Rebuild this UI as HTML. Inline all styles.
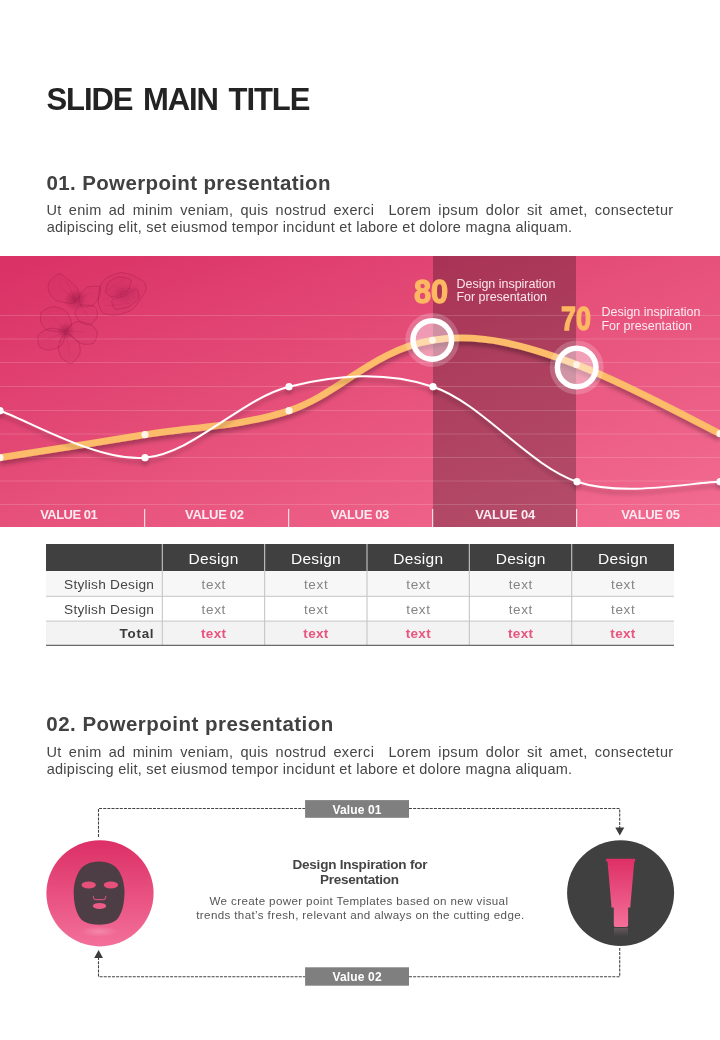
<!DOCTYPE html>
<html lang="en">
<head>
<meta charset="utf-8">
<title>Slide Main Title</title>
<style>
html,body{margin:0;padding:0;background:#fff;}
body{width:720px;height:1040px;position:relative;overflow:hidden;font-family:"Liberation Sans",sans-serif;}
.t{position:absolute;white-space:pre;margin:0;}
.abs{position:absolute;}
#chart{left:0;top:256px;width:720px;height:271px;background:linear-gradient(to bottom right,#da3065 0%,#e6517b 50%,#f36c92 100%);}
#darkcol{left:433px;top:256px;width:143.4px;height:271px;background:rgba(0,0,0,0.25);}
svg{position:absolute;left:0;top:0;overflow:visible;}
</style>
</head>
<body>
<div id="chart" class="abs"></div>
<div id="darkcol" class="abs"></div>

<!-- chart graphics -->
<svg width="720" height="1040" viewBox="0 0 720 1040">
  <defs>
    <filter id="sh" x="-10%" y="-30%" width="120%" height="180%">
      <feGaussianBlur in="SourceAlpha" stdDeviation="2"/>
      <feOffset dx="0" dy="4" result="o"/>
      <feComponentTransfer><feFuncA type="linear" slope="0.28"/></feComponentTransfer>
      <feMerge><feMergeNode/><feMergeNode in="SourceGraphic"/></feMerge>
    </filter>
    <clipPath id="cc"><rect x="0" y="256" width="720" height="271"/></clipPath>
    <linearGradient id="pk" x1="0" y1="0" x2="0" y2="1">
      <stop offset="0" stop-color="#dc2f66"/><stop offset="1" stop-color="#f3709a"/>
    </linearGradient>
    <pattern id="dots" width="2.4" height="2.4" patternUnits="userSpaceOnUse"><circle cx="0.8" cy="0.8" r="0.55" fill="#8e1440" fill-opacity="0.5"/></pattern>
    <radialGradient id="dotm"><stop offset="0" stop-color="#fff" stop-opacity="1"/><stop offset="0.6" stop-color="#fff" stop-opacity="0.7"/><stop offset="1" stop-color="#fff" stop-opacity="0"/></radialGradient>
    <mask id="dm1"><ellipse cx="128" cy="294" rx="13" ry="10" fill="url(#dotm)"/></mask>
    <mask id="dm2"><ellipse cx="80" cy="297" rx="10" ry="7" fill="url(#dotm)"/></mask>
    <radialGradient id="stam"><stop offset="0" stop-color="#8e1440" stop-opacity="0.5"/><stop offset="1" stop-color="#8e1440" stop-opacity="0"/></radialGradient>
    <radialGradient id="stam2"><stop offset="0" stop-color="#8e1440" stop-opacity="0.2"/><stop offset="1" stop-color="#8e1440" stop-opacity="0"/></radialGradient>
    <radialGradient id="refl"><stop offset="0" stop-color="#fff" stop-opacity="0.22"/><stop offset="1" stop-color="#fff" stop-opacity="0"/></radialGradient>
    <linearGradient id="trefl" x1="0" y1="0" x2="0" y2="1"><stop offset="0" stop-color="#d8a0b2" stop-opacity="0.24"/><stop offset="1" stop-color="#d8a0b2" stop-opacity="0"/></linearGradient>
    <linearGradient id="tube" x1="0" y1="0" x2="0" y2="1">
      <stop offset="0" stop-color="#dd2f66"/><stop offset="1" stop-color="#f46f99"/>
    </linearGradient>
  </defs>
  <g clip-path="url(#cc)">
    <!-- grid lines -->
    <g stroke="#ffffff" stroke-opacity="0.16" stroke-width="1">
      <path d="M0 315.5H720M0 339H720M0 362.5H720M0 386.5H720M0 410.5H720M0 434H720M0 457.5H720M0 481H720M0 504.5H720"/>
    </g>
    <!-- flower sketch -->
    <g id="flower" fill="#b0204f" fill-opacity="0.06" stroke="#9c1a48" stroke-opacity="0.5" stroke-width="0.7">
<path d="M49.3 281.7C50.6 279.9 57.0 273.4 60.0 274.0C63.0 274.6 73.9 284.2 76.0 286.7C78.1 289.2 79.8 294.9 79.3 296.7C78.8 298.5 74.4 302.9 71.7 303.3C69.0 303.7 57.6 301.5 55.0 300.0C52.4 298.5 48.9 292.0 48.3 290.0C47.7 288.0 48.0 283.5 49.3 281.7Z"/>
<path d="M79.3 296.7C79.9 294.5 85.0 288.4 87.3 287.3C89.6 286.2 98.7 285.7 100.0 286.7C101.3 287.7 100.0 294.7 99.3 296.7C98.6 298.7 95.3 303.9 93.3 305.0C91.3 306.1 83.3 307.6 81.7 306.7C80.1 305.8 78.7 298.9 79.3 296.7Z"/>
<path d="M80.0 305.0C82.2 304.3 93.1 305.4 95.0 306.7C96.9 308.0 97.9 314.7 97.3 316.7C96.7 318.7 91.9 324.4 90.0 325.0C88.1 325.6 81.7 323.0 80.0 321.7C78.3 320.4 75.0 315.2 75.0 313.3C75.0 311.4 77.8 305.7 80.0 305.0Z"/>
<path d="M100.0 286.7C100.9 283.9 103.8 279.9 106.0 278.3C108.2 276.7 117.1 273.1 120.0 272.7C122.9 272.3 129.0 274.0 131.7 275.0C134.4 276.0 142.4 280.0 144.0 281.7C145.6 283.4 146.4 288.0 146.0 290.0C145.6 292.0 141.6 297.8 140.0 300.0C138.4 302.2 134.3 308.3 131.7 310.0C129.1 311.7 119.9 314.6 116.7 315.0C113.5 315.4 105.3 314.6 103.3 313.3C101.3 312.0 98.7 306.3 98.3 303.3C97.9 300.3 99.1 289.5 100.0 286.7Z"/>
<path d="M108.0 283.0C109.3 281.2 115.4 277.3 118.0 277.0C120.6 276.7 130.0 278.3 131.0 280.0C132.0 281.7 128.9 290.1 127.0 292.0C125.1 293.9 116.3 296.9 114.0 297.0C111.7 297.1 106.7 294.6 106.0 293.0C105.3 291.4 106.7 284.8 108.0 283.0Z"/>
<path d="M112.0 300.0C113.0 298.6 121.3 297.2 124.0 296.0C126.7 294.8 134.3 288.8 136.0 289.0C137.7 289.2 139.9 296.0 139.0 298.0C138.1 300.0 130.7 305.8 128.0 307.0C125.3 308.2 116.8 309.8 115.0 309.0C113.2 308.2 111.0 301.4 112.0 300.0Z"/>
<path d="M41.7 311.7C43.1 310.0 50.5 306.7 53.3 306.7C56.1 306.7 64.7 309.7 66.7 311.7C68.7 313.7 72.1 322.8 71.7 325.0C71.3 327.2 66.1 331.1 63.3 331.7C60.5 332.3 49.2 331.1 46.7 330.0C44.2 328.9 41.3 323.7 40.7 321.7C40.1 319.7 40.3 313.4 41.7 311.7Z"/>
<path d="M38.3 335.0C39.5 333.0 47.0 328.7 50.0 328.3C53.0 327.9 63.7 329.8 65.0 331.7C66.3 333.6 63.4 343.0 61.7 345.0C60.0 347.0 52.5 349.8 50.0 350.0C47.5 350.2 40.6 348.4 39.3 346.7C38.0 345.0 37.1 337.0 38.3 335.0Z"/>
<path d="M65.0 333.3C67.2 332.7 76.6 339.5 78.3 341.7C80.0 343.9 80.7 350.9 80.0 353.3C79.3 355.7 73.7 362.7 71.7 363.3C69.7 363.9 63.2 360.1 61.7 358.3C60.2 356.5 57.9 349.5 58.3 346.7C58.7 343.9 62.8 333.9 65.0 333.3Z"/>
<path d="M66.7 330.0C66.3 327.6 73.9 322.3 76.7 321.7C79.5 321.1 89.4 323.7 91.7 325.0C94.0 326.3 97.1 331.3 97.3 333.3C97.5 335.3 95.2 342.2 93.3 343.3C91.4 344.4 83.0 344.8 80.0 343.3C77.0 341.8 67.1 332.4 66.7 330.0Z"/>
      <g stroke-width="0.5" stroke-opacity="0.3" fill="none"><path d="M75 300L58 284M75 300L66 280M76 300L92 292M77 302L88 316M66 331L52 316M67 331L86 332M66 333L70 355M65 332L46 340M103 300L138 286M106 306L130 303M104 292L126 278"/></g>
    </g>
    <circle cx="75" cy="300" r="11" fill="url(#stam)"/><circle cx="66" cy="331" r="9" fill="url(#stam)"/><ellipse cx="122" cy="293" rx="14" ry="10" fill="url(#stam2)"/><rect x="110" y="280" width="36" height="28" fill="url(#dots)" mask="url(#dm1)"/><rect x="68" y="288" width="24" height="18" fill="url(#dots)" mask="url(#dm2)"/>
    <!-- dividers -->
    <path d="M144.7 509V527M288.7 509V527M432.7 509V527M576.7 509V527" stroke="#fff" stroke-opacity="0.95" stroke-width="1"/>
    <!-- orange curve -->
    <g filter="url(#sh)" transform="translate(0 0.7)">
    <path d="M0.0 457.0 C24.2 453.2 96.8 441.8 145.0 434.0 C193.2 426.2 241.0 425.8 289.0 410.0 C339.4 393.4 373.0 349.1 433.0 339.5 C481.0 331.4 529.2 345.8 577.0 364.0 C624.8 382.2 696.2 421.0 720.0 433.0" fill="none" stroke="#fdbc69" stroke-width="6.8"/>
    </g>
    <!-- white curve -->
    <g filter="url(#sh)" transform="translate(0 0.7)">
    <path d="M0.0 410.0 C24.2 417.8 96.8 461.0 145.0 457.0 C193.2 453.0 241.0 397.8 289.0 386.0 C337.0 374.2 385.0 370.2 433.0 386.0 C481.0 401.8 529.2 465.2 577.0 481.0 C624.8 496.8 696.2 481.0 720.0 481.0" fill="none" stroke="#fff" stroke-width="2"/>
    <g fill="#fff"><circle cx="0" cy="410" r="3.6"/><circle cx="145" cy="457" r="3.6"/><circle cx="289" cy="386" r="3.6"/><circle cx="433" cy="386" r="3.6"/><circle cx="577" cy="481" r="3.6"/><circle cx="720" cy="481" r="3.6"/></g>
    </g>
    <!-- rings -->
    <g>
      <circle cx="432.3" cy="340" r="27" fill="#fff" fill-opacity="0.2"/>
      <circle cx="432.3" cy="340" r="19.3" fill="#fff" fill-opacity="0.3" stroke="#fff" stroke-width="5.5"/>
      <circle cx="576.7" cy="367.5" r="27" fill="#fff" fill-opacity="0.2"/>
      <circle cx="576.7" cy="367.5" r="19.3" fill="#fff" fill-opacity="0.3" stroke="#fff" stroke-width="5.5"/>
    </g>
    <g fill="#fff5e8" transform="translate(0 0.7)"><circle cx="0" cy="457" r="3.6"/><circle cx="145" cy="434" r="3.6"/><circle cx="289" cy="410" r="3.6"/><circle cx="432.5" cy="339.5" r="3.4"/><circle cx="576.5" cy="364" r="3.4"/><circle cx="720" cy="433" r="3.6"/></g>
  </g>

  <!-- table -->
  <rect x="46" y="544" width="628" height="27" fill="#404040"/>
  <rect x="46" y="571" width="628" height="25.3" fill="#f7f7f7"/>
  <rect x="46" y="621" width="628" height="24.3" fill="#f3f3f3"/>
  <path d="M46 596.4H674M46 621.1H674" stroke="#d0d0d0" stroke-width="1.1"/>
  <path d="M162.3 544V645M264.65 544V645M367 544V645M469.35 544V645M571.7 544V645" stroke="#c6c6c6" stroke-width="1.1"/>
  <path d="M46 645.3H674" stroke="#6a6a6a" stroke-width="1.3"/>

  <!-- diagram -->
  <g fill="none" stroke="#444" stroke-width="1.1" stroke-dasharray="3 1.15">
    <path d="M98.5 837V808.5H305"/>
    <path d="M409 808.5H619.7V828"/>
    <path d="M98.5 957V976.7H305"/>
    <path d="M409 976.7H619.7V948"/>
  </g>
  <path d="M615.3 827.5h9l-4.5 8z" fill="#3c3c3c"/>
  <path d="M94.2 958h8.8l-4.4-8z" fill="#3c3c3c"/>
  <rect x="305.1" y="800.1" width="103.9" height="17.7" fill="#7f7f7f"/>
  <rect x="305.1" y="967.3" width="103.9" height="18.4" fill="#7f7f7f"/>
  <ellipse cx="100" cy="893.3" rx="53.6" ry="53.1" fill="url(#pk)"/>
  <ellipse cx="620.6" cy="893.1" rx="53.5" ry="52.9" fill="#404040"/>
  <!-- mask icon -->
  <g id="mask">
    <ellipse cx="99.3" cy="931.5" rx="19" ry="5.5" fill="url(#refl)"/>
    <path d="M99.1 861.5C108.3 861.5 116.0 864.8 120.2 873.2C123.4 879.5 124.5 886.3 124.5 892.3C124.3 903.7 122.3 911.7 118.6 917.3C115.1 922.8 107.6 924.7 99.1 924.7C90.6 924.7 83.1 922.8 79.6 917.3C75.9 911.7 73.9 903.7 73.7 892.3C73.7 886.3 74.8 879.5 78.0 873.2C82.2 864.8 89.9 861.5 99.1 861.5Z" fill="#4d3d45"/>
    <ellipse cx="88.7" cy="885" rx="7.2" ry="3.4" fill="#e6507b"/>
    <ellipse cx="110.9" cy="885" rx="7.2" ry="3.4" fill="#e6507b"/>
    <ellipse cx="99.5" cy="905.9" rx="6.7" ry="3" fill="#ec5c86"/>
    <path d="M93.4 895.9V897.3Q93.4 899.7 95.8 899.7H103.3Q105.7 899.7 105.7 897.3V895.9" fill="none" stroke="#ea5883" stroke-width="1"/>
  </g>
  <!-- tube icon -->
  <g id="tubeicon">
    <rect x="613.9" y="928" width="14.1" height="8.5" fill="url(#trefl)"/>
    <path d="M606.6 858.7H634.6Q635.4 858.7 635.3 859.4L634.9 861.6H634.3L630.4 905.4V907.5H628.1V925.2Q628.1 927 626.3 927H615.6Q613.8 927 613.8 925.2V907.5H611.4V905.4L607.5 861.6H606.3L605.9 859.4Q605.8 858.7 606.6 858.7Z" fill="url(#tube)"/>
  </g>
</svg>

<div class="t" style="left:46.40px;top:81.06px;font-size:31px;line-height:37px;font-weight:700;color:#232323;letter-spacing:-1.055px;word-spacing:3px;">SLIDE MAIN TITLE</div>
<div class="t" style="left:46.50px;top:170.00px;font-size:20.5px;line-height:25px;font-weight:700;color:#414141;letter-spacing:0.364px;">01. Powerpoint presentation</div>
<div class="t" style="left:46.30px;top:711.30px;font-size:20.5px;line-height:25px;font-weight:700;color:#414141;letter-spacing:0.480px;">02. Powerpoint presentation</div>
<div class="t" style="left:46.50px;top:202.03px;font-size:14.5px;line-height:17px;font-weight:400;color:#454545;word-spacing:2.712px;letter-spacing:0.35px;">Ut enim ad minim veniam, quis nostrud exerci&nbsp; Lorem ipsum dolor sit amet, consectetur</div>
<div class="t" style="left:46.70px;top:218.53px;font-size:14.5px;line-height:17px;font-weight:400;color:#454545;letter-spacing:0.268px;">adipiscing elit, set eiusmod tempor incidunt et labore et dolore magna aliquam.</div>
<div class="t" style="left:46.50px;top:744.13px;font-size:14.5px;line-height:17px;font-weight:400;color:#454545;word-spacing:2.712px;letter-spacing:0.35px;">Ut enim ad minim veniam, quis nostrud exerci&nbsp; Lorem ipsum dolor sit amet, consectetur</div>
<div class="t" style="left:46.70px;top:760.63px;font-size:14.5px;line-height:17px;font-weight:400;color:#454545;letter-spacing:0.268px;">adipiscing elit, set eiusmod tempor incidunt et labore et dolore magna aliquam.</div>
<div class="t" style="left:40.15px;top:507.05px;font-size:13px;line-height:16px;font-weight:700;color:#fdeaf0;letter-spacing:-0.525px;">VALUE 01</div>
<div class="t" style="left:185.00px;top:507.05px;font-size:13px;line-height:16px;font-weight:700;color:#fdeaf0;letter-spacing:-0.310px;">VALUE 02</div>
<div class="t" style="left:330.70px;top:507.05px;font-size:13px;line-height:16px;font-weight:700;color:#fdeaf0;letter-spacing:-0.367px;">VALUE 03</div>
<div class="t" style="left:475.20px;top:507.05px;font-size:13px;line-height:16px;font-weight:700;color:#fdeaf0;letter-spacing:-0.167px;">VALUE 04</div>
<div class="t" style="left:621.25px;top:507.05px;font-size:13px;line-height:16px;font-weight:700;color:#fdeaf0;letter-spacing:-0.353px;">VALUE 05</div>
<div class="t" style="left:413.80px;top:272.37px;font-size:33px;line-height:40px;font-weight:700;color:#fdb862;transform:scaleX(0.9314);transform-origin:0 0;-webkit-text-stroke:1.3px #fdb862;">80</div>
<div class="t" style="left:560.60px;top:299.37px;font-size:33px;line-height:40px;font-weight:700;color:#fdb862;transform:scaleX(0.8170);transform-origin:0 0;-webkit-text-stroke:1.3px #fdb862;">70</div>
<div class="t" style="left:456.50px;top:276.67px;font-size:12.5px;line-height:15px;font-weight:400;color:#fbe6ec;letter-spacing:-0.021px;">Design inspiration</div>
<div class="t" style="left:456.50px;top:290.47px;font-size:12.5px;line-height:15px;font-weight:400;color:#fbe6ec;letter-spacing:-0.035px;">For presentation</div>
<div class="t" style="left:601.50px;top:304.97px;font-size:12.5px;line-height:15px;font-weight:400;color:#fdeaf0;letter-spacing:-0.021px;">Design inspiration</div>
<div class="t" style="left:601.50px;top:318.77px;font-size:12.5px;line-height:15px;font-weight:400;color:#fdeaf0;letter-spacing:-0.035px;">For presentation</div>
<div class="t" style="left:188.62px;top:549.33px;font-size:15.5px;line-height:19px;font-weight:400;color:#ffffff;letter-spacing:0.290px;">Design</div>
<div class="t" style="left:201.62px;top:576.82px;font-size:13.5px;line-height:16px;font-weight:400;color:#858585;letter-spacing:0.645px;">text</div>
<div class="t" style="left:201.62px;top:601.82px;font-size:13.5px;line-height:16px;font-weight:400;color:#858585;letter-spacing:0.645px;">text</div>
<div class="t" style="left:200.97px;top:625.72px;font-size:13.5px;line-height:16px;font-weight:700;color:#e8557f;letter-spacing:0.328px;">text</div>
<div class="t" style="left:290.97px;top:549.33px;font-size:15.5px;line-height:19px;font-weight:400;color:#ffffff;letter-spacing:0.290px;">Design</div>
<div class="t" style="left:303.97px;top:576.82px;font-size:13.5px;line-height:16px;font-weight:400;color:#858585;letter-spacing:0.645px;">text</div>
<div class="t" style="left:303.97px;top:601.82px;font-size:13.5px;line-height:16px;font-weight:400;color:#858585;letter-spacing:0.645px;">text</div>
<div class="t" style="left:303.32px;top:625.72px;font-size:13.5px;line-height:16px;font-weight:700;color:#e8557f;letter-spacing:0.328px;">text</div>
<div class="t" style="left:393.32px;top:549.33px;font-size:15.5px;line-height:19px;font-weight:400;color:#ffffff;letter-spacing:0.290px;">Design</div>
<div class="t" style="left:406.32px;top:576.82px;font-size:13.5px;line-height:16px;font-weight:400;color:#858585;letter-spacing:0.645px;">text</div>
<div class="t" style="left:406.32px;top:601.82px;font-size:13.5px;line-height:16px;font-weight:400;color:#858585;letter-spacing:0.645px;">text</div>
<div class="t" style="left:405.68px;top:625.72px;font-size:13.5px;line-height:16px;font-weight:700;color:#e8557f;letter-spacing:0.328px;">text</div>
<div class="t" style="left:495.68px;top:549.33px;font-size:15.5px;line-height:19px;font-weight:400;color:#ffffff;letter-spacing:0.290px;">Design</div>
<div class="t" style="left:508.68px;top:576.82px;font-size:13.5px;line-height:16px;font-weight:400;color:#858585;letter-spacing:0.645px;">text</div>
<div class="t" style="left:508.68px;top:601.82px;font-size:13.5px;line-height:16px;font-weight:400;color:#858585;letter-spacing:0.645px;">text</div>
<div class="t" style="left:508.03px;top:625.72px;font-size:13.5px;line-height:16px;font-weight:700;color:#e8557f;letter-spacing:0.328px;">text</div>
<div class="t" style="left:598.00px;top:549.33px;font-size:15.5px;line-height:19px;font-weight:400;color:#ffffff;letter-spacing:0.290px;">Design</div>
<div class="t" style="left:611.00px;top:576.82px;font-size:13.5px;line-height:16px;font-weight:400;color:#858585;letter-spacing:0.645px;">text</div>
<div class="t" style="left:611.00px;top:601.82px;font-size:13.5px;line-height:16px;font-weight:400;color:#858585;letter-spacing:0.645px;">text</div>
<div class="t" style="left:610.35px;top:625.72px;font-size:13.5px;line-height:16px;font-weight:700;color:#e8557f;letter-spacing:0.328px;">text</div>
<div class="t" style="left:64.00px;top:576.75px;font-size:13.7px;line-height:16px;font-weight:400;color:#454545;letter-spacing:0.251px;">Stylish Design</div>
<div class="t" style="left:64.00px;top:601.75px;font-size:13.7px;line-height:16px;font-weight:400;color:#454545;letter-spacing:0.251px;">Stylish Design</div>
<div class="t" style="left:119.60px;top:626.36px;font-size:13.4px;line-height:16px;font-weight:700;color:#3a3a3a;letter-spacing:0.750px;">Total</div>
<div class="t" style="left:332.60px;top:802.74px;font-size:12px;line-height:14px;font-weight:700;color:#ffffff;letter-spacing:0.108px;">Value 01</div>
<div class="t" style="left:332.40px;top:970.34px;font-size:12px;line-height:14px;font-weight:700;color:#ffffff;letter-spacing:0.165px;">Value 02</div>
<div class="t" style="left:292.50px;top:857.37px;font-size:13.5px;line-height:16px;font-weight:700;color:#444444;letter-spacing:-0.215px;">Design Inspiration for</div>
<div class="t" style="left:320.00px;top:872.12px;font-size:13.5px;line-height:16px;font-weight:700;color:#444444;letter-spacing:-0.253px;">Presentation</div>
<div class="t" style="left:209.50px;top:893.98px;font-size:11.6px;line-height:14px;font-weight:400;color:#555555;letter-spacing:0.372px;">We create power point Templates based on new visual</div>
<div class="t" style="left:196.25px;top:908.28px;font-size:11.6px;line-height:14px;font-weight:400;color:#555555;letter-spacing:0.368px;">trends that’s fresh, relevant and always on the cutting edge.</div>
</body>
</html>
